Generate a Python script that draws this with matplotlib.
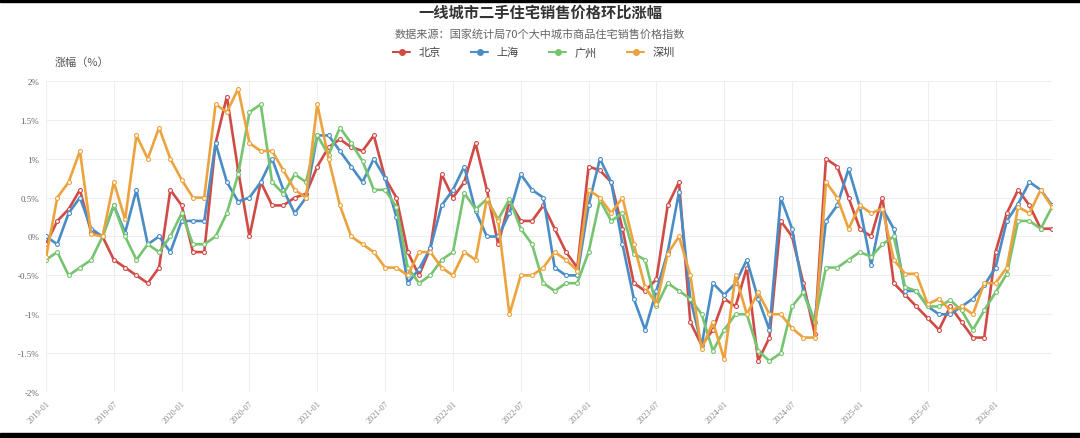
import numpy as np
import pandas as pd
import matplotlib
matplotlib.use('Agg')
import matplotlib.pyplot as plt
from matplotlib.lines import Line2D
from matplotlib.patches import Rectangle

plt.rcParams['font.family'] = ['Noto Sans CJK SC', 'DejaVu Sans']

# meses 2019-01 ... 2026-06
meses = pd.date_range('2019-01-01', periods=90, freq='MS').strftime('%Y-%m').tolist()

beijing = [
    -0.1, 0.2, 0.35, 0.6, 0.05, 0.0, -0.3, -0.4, -0.5, -0.6,
    -0.4, 0.6, 0.4, -0.2, -0.2, 1.2, 1.8, 0.85, 0.0, 0.7,
    0.4, 0.4, 0.5, 0.55, 0.9, 1.15, 1.25, 1.15, 1.1, 1.3,
    0.75, 0.5, -0.2, -0.5, -0.15, 0.8, 0.5, 0.7, 1.2, 0.6,
    -0.1, 0.45, 0.2, 0.2, 0.4, 0.1, -0.2, -0.4, 0.9, 0.85,
    0.7, 0.1, -0.6, -0.7, -0.55, 0.4, 0.7, -1.1, -1.4, -1.2,
    -0.8, -0.9, -0.4, -1.6, -1.3, 0.2, 0.0, -0.6, -1.25, 1.0,
    0.9, 0.5, 0.1, 0.0, 0.5, -0.6, -0.75, -0.9, -1.05, -1.2,
    -0.9, -1.1, -1.3, -1.3, -0.2, 0.3, 0.6, 0.4, 0.1, 0.1,
]
shanghai = [
    0.0, -0.1, 0.3, 0.5, 0.1, 0.0, 0.4, 0.05, 0.6, -0.1,
    0.0, -0.2, 0.2, 0.2, 0.2, 1.2, 0.7, 0.45, 0.5, 0.7,
    1.0, 0.6, 0.3, 0.5, 1.3, 1.3, 1.1, 0.9, 0.7, 1.0,
    0.75, 0.25, -0.6, -0.42, -0.15, 0.4, 0.6, 0.9, 0.33, 0.0,
    0.0, 0.3, 0.8, 0.6, 0.5, -0.4, -0.5, -0.5, 0.4, 1.0,
    0.7, -0.1, -0.8, -1.2, -0.7, -0.2, 0.57, -0.8, -1.4, -0.6,
    -0.75, -0.6, -0.3, -0.8, -1.2, 0.5, 0.1, -0.7, -1.1, 0.2,
    0.4, 0.87, 0.38, -0.37, 0.36, 0.1, -0.7, -0.7, -0.9, -1.0,
    -1.0, -0.9, -0.8, -0.63, -0.4, 0.2, 0.42, 0.7, 0.6, 0.4,
]
guangzhou = [
    -0.3, -0.2, -0.5, -0.4, -0.3, 0.0, 0.4, 0.0, -0.3, -0.1,
    -0.2, 0.0, 0.3, -0.1, -0.1, 0.0, 0.3, 0.8, 1.6, 1.7,
    0.7, 0.55, 0.8, 0.7, 1.3, 1.05, 1.4, 1.2, 0.97, 0.6,
    0.6, 0.38, -0.4, -0.6, -0.5, -0.3, -0.2, 0.56, 0.35, 0.48,
    0.22, 0.48, 0.1, -0.1, -0.6, -0.7, -0.6, -0.6, -0.2, 0.47,
    0.2, 0.3, -0.22, -0.3, -0.9, -0.6, -0.7, -0.8, -1.0, -1.47,
    -1.2, -1.0, -1.0, -1.47, -1.6, -1.5, -0.9, -0.72, -1.1, -0.4,
    -0.4, -0.3, -0.2, -0.26, -0.1, 0.0, -0.65, -0.7, -0.9, -0.9,
    -0.82, -0.95, -1.2, -0.95, -0.72, -0.48, 0.2, 0.2, 0.1, 0.38,
]
shenzhen = [
    -0.27, 0.5, 0.7, 1.1, 0.03, 0.0, 0.7, 0.22, 1.3, 1.0,
    1.4, 1.0, 0.73, 0.5, 0.5, 1.7, 1.6, 1.9, 1.2, 1.1,
    1.1, 0.85, 0.6, 0.5, 1.7, 1.0, 0.4, 0.0, -0.1, -0.2,
    -0.4, -0.4, -0.5, -0.2, -0.2, -0.4, -0.5, -0.2, -0.3, 0.48,
    0.2, -1.0, -0.5, -0.5, -0.4, -0.2, -0.3, -0.44, 0.6, 0.5,
    0.3, 0.5, -0.1, -0.65, -0.87, -0.22, 0.0, -0.5, -1.45, -1.1,
    -1.58, -0.5, -1.0, -0.72, -1.0, -1.0, -1.18, -1.3, -1.3, 0.7,
    0.5, 0.1, 0.4, 0.3, 0.36, -0.3, -0.48, -0.48, -0.87, -0.8,
    -0.95, -0.9, -1.0, -0.6, -0.6, -0.4, 0.38, 0.3, 0.6, 0.38,
]

ciudades = ['北京', '上海', '广州', '深圳']
colores = ['#d04a46', '#4a8dc6', '#76c46f', '#eca33d']
series = [beijing, shanghai, guangzhou, shenzhen]

fig = plt.figure(figsize=(10.8, 4.39), dpi=100)
ax = fig.add_axes([0.0426, 0.1048, 0.9315, 0.7084])

x = np.arange(len(meses))
for nombre, col, vals in zip(ciudades, colores, series):
    ax.plot(x, vals, color=col, lw=1.9, marker='o', ms=2.8,
            mfc='white', mec=col, mew=0.8, label=nombre, zorder=3)

ax.set_xlim(0, len(meses) - 1)
ax.set_ylim(-2, 2)
ax.set_yticks(np.arange(-2, 2.01, 0.5))
ax.set_yticklabels(['%g%%' % v for v in np.arange(-2, 2.01, 0.5)],
                   fontsize=6.5, color='#666666', family=['Liberation Serif', 'DejaVu Serif'])
ticks = x[::6]
ax.set_xticks(ticks)
ax.set_xticklabels([meses[i] for i in ticks], rotation=45, ha='right',
                   rotation_mode='anchor', fontsize=6, color='#888888',
                   family=['Liberation Serif', 'DejaVu Serif'])
ax.tick_params(length=0, pad=5)
ax.grid(True, color='#eeeeee', lw=0.8)
for s in ax.spines.values():
    s.set_visible(False)

# titulos
fig.text(0.5, 0.970, '一线城市二手住宅销售价格环比涨幅', ha='center', va='center',
         fontsize=11, fontweight='bold', color='#333333')
fig.text(0.5, 0.922, '数据来源：国家统计局70个大中城市商品住宅销售价格指数',
         ha='center', va='center', fontsize=8, color='#666666')
fig.text(0.051, 0.858, '涨幅（%）', ha='left', va='center', fontsize=8, color='#555555')

handles = [Line2D([0], [0], color=c, lw=1.5, ls='--', marker='o', ms=4, mfc=c, mec=c)
           for c in colores]
fig.legend(handles, ciudades, loc='center', bbox_to_anchor=(0.494, 0.879), ncol=4,
           frameon=False, fontsize=8, handlelength=1.8, columnspacing=2.6,
           handletextpad=0.6, labelcolor='#444444')

# bordes negros de la captura
fig.patches.append(Rectangle((0, 0.993), 1, 0.007, transform=fig.transFigure,
                             color='black', zorder=10))
fig.patches.append(Rectangle((0, 0), 1, 0.011, transform=fig.transFigure,
                             color='black', zorder=10))

fig.savefig('out.png', dpi=100, facecolor='white')
